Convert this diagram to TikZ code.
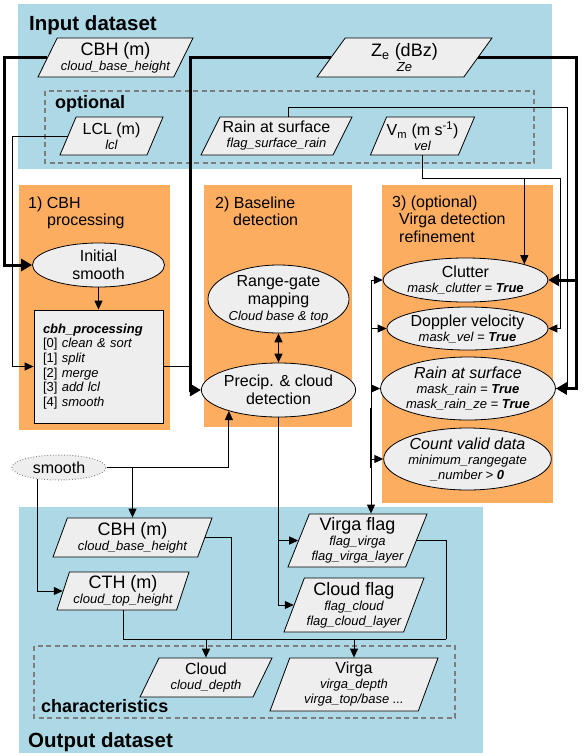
\documentclass[tikz,border=0pt]{standalone}
\usepackage{fontspec}
\setmainfont{Liberation Sans}
\usetikzlibrary{shapes.geometric,arrows.meta}

\definecolor{inblue}{RGB}{173,216,230}
\definecolor{steporange}{RGB}{253,173,96}
\definecolor{boxgray}{RGB}{238,238,238}
\definecolor{dashgray}{RGB}{125,125,125}

\newcommand{\mainsize}{\fontsize{18}{20}\selectfont}
\newcommand{\midsize}{\fontsize{16}{18}\selectfont}

\tikzset{
	io/.style={trapezium, trapezium left angle=#1, trapezium right angle={180-#1},
		trapezium stretches body, draw, line width=0.8pt, fill=boxgray,
		inner sep=0pt, align=center, font=\fontsize{13}{15}\selectfont},
	io/.default=60,
	proc/.style={ellipse, draw, line width=0.8pt, fill=boxgray, inner sep=0pt,
		align=center, font=\fontsize{13}{15}\selectfont},
	bigtitle/.style={anchor=base west, inner sep=0pt, font=\fontsize{20.5}{22}\selectfont\bfseries},
	smalltitle/.style={anchor=base west, inner sep=0pt, font=\fontsize{18}{20}\selectfont\bfseries},
	steptitle/.style={anchor=north west, inner sep=0pt, align=left, font=\fontsize{16}{17.5}\selectfont},
	optbox/.style={draw=dashgray, line width=2pt, dash pattern=on 5pt off 3.5pt},
	thn/.style={line width=1pt, -{Triangle[length=9pt,width=8pt]}},
	thk/.style={line width=3pt, -{Triangle[length=11pt,width=12pt]}},
}

\begin{document}
\begin{tikzpicture}[x=1pt, y=-1pt]
	\useasboundingbox (0,0) rectangle (586,756);

	\fill[inblue] (18,4) rectangle (552,169);
	\fill[inblue] (19,507) rectangle (483,753);
	\fill[steporange] (19,185) rectangle (170,430);
	\fill[steporange] (204,185) rectangle (352,427);
	\fill[steporange] (382,185) rectangle (553,503);
	\draw[optbox] (45,91) rectangle (534,163);
	\draw[optbox] (34,646) rectangle (455,718);

	\node[bigtitle] (intitle) at (29,30) {Input dataset};
	\node[smalltitle] (opttitle) at (55,108) {optional};
	\node[smalltitle] (chartitle) at (41,712.5) {characteristics};
	\node[bigtitle] (outtitle) at (28,747) {Output dataset};
	\node[steptitle] (t1) at (28,196.5) {1) CBH\\\hspace*{19pt}processing};
	\node[steptitle] (t2) at (215,196.5) {2) Baseline\\\hspace*{18pt}detection};
	\node[steptitle] (t3) at (392,195.5) {3) (optional)\\\hspace*{7pt}Virga detection\\\hspace*{7pt}refinement};

	\node[io=58, minimum width=155pt, minimum height=39pt] (cbhin) at (115.5,57.5) {{\mainsize CBH (m)}\\{\itshape cloud\_base\_height}};
	\node[io=45, minimum width=175pt, minimum height=39pt] (zein) at (404.5,57.5) {{\mainsize Z\textsubscript{e} (dBz)}\\{\itshape Ze}};
	\node[io=59, minimum width=103pt, minimum height=38pt] (lclin) at (111.5,136) {{\midsize LCL (m)}\\{\itshape lcl}};
	\node[io=57, minimum width=151pt, minimum height=38pt] (rainin) at (276.5,136) {{\midsize Rain at surface}\\{\itshape flag\_surface\_rain}};
	\node[io=61, minimum width=101pt, minimum height=38pt] (vmin) at (422.5,136) {{\midsize V\textsubscript{m} (m s\textsuperscript{-1})}\\{\itshape vel}};

	\node[proc, minimum width=132pt, minimum height=44pt, font=\midsize] (initsm) at (98.5,265) {Initial\\smooth};
	\node[draw, fill=boxgray, line width=0.8pt, minimum width=129pt, minimum height=113pt, text width=111pt, inner xsep=9pt, align=left, font=\fontsize{13}{14.6}\selectfont] (cbhproc) at (98.5,366.5) {\textbf{\textit{cbh\_processing}}\\{}[0] \textit{clean \& sort}\\{}[1] \textit{split}\\{}[2] \textit{merge}\\{}[3] \textit{add lcl}\\{}[4] \textit{smooth}};

	\node[proc, minimum width=131pt, minimum height=68pt] (range) at (278.5,299) {{\midsize Range-gate}\\[3pt]{\midsize mapping}\\[1pt]{\itshape Cloud base \& top}};
	\node[proc, minimum width=133pt, minimum height=54pt, font=\midsize] (precip) at (278.5,390) {Precip. \& cloud\\detection};

	\node[proc, minimum width=153pt, minimum height=44pt] (clutter) at (465.5,280) {{\midsize Clutter}\\{\itshape mask\_clutter = \textbf{True}}};
	\node[proc, minimum width=155pt, minimum height=43pt] (doppler) at (467.5,328.5) {{\midsize Doppler velocity}\\{\itshape mask\_vel = \textbf{True}}};
	\node[proc, minimum width=156pt, minimum height=63pt] (rainsurf) at (468,388.5) {{\midsize\itshape Rain at surface}\\{\itshape mask\_rain = \textbf{True}}\\{\itshape mask\_rain\_ze = \textbf{True}}};
	\node[proc, minimum width=155pt, minimum height=62pt] (countv) at (467.5,459) {{\midsize\itshape Count valid data}\\{\itshape minimum\_rangegate}\\{\itshape \_number > \textbf{0}}};

	\node[proc, draw=gray, dotted, line width=1pt, minimum width=94pt, minimum height=25pt, font=\midsize] (smooth) at (59,467.5) {smooth};

	\node[io=65, minimum width=159pt, minimum height=39pt] (cbhout) at (132.5,537.5) {{\mainsize CBH (m)}\\{\itshape cloud\_base\_height}};
	\node[io=68, minimum width=132pt, minimum height=38pt] (ctout) at (123,591) {{\mainsize CTH (m)}\\{\itshape cloud\_top\_height}};
	\node[io=65, minimum width=139pt, minimum height=53pt] (virgaflag) at (357.5,540.5) {{\mainsize Virga flag}\\{\itshape flag\_virga}\\{\itshape flag\_virga\_layer}};
	\node[io=66, minimum width=140pt, minimum height=54pt] (cloudflag) at (354,605) {{\mainsize Cloud flag}\\{\itshape flag\_cloud}\\{\itshape flag\_cloud\_layer}};
	\node[io=57, minimum width=132pt, minimum height=39pt] (cloudch) at (206,677.5) {{\midsize Cloud}\\{\itshape cloud\_depth}};
	\node[io=66, minimum width=168pt, minimum height=53pt] (virgach) at (354,684.5) {{\midsize Virga}\\{\itshape virga\_depth}\\{\itshape virga\_top/base ...}};

	\coordinate (xa) at (4,0);
	\coordinate (xb) at (12,0);
	\coordinate (xc) at (190,0);
	\coordinate (xd) at (576,0);
	\coordinate (raincorner) at (567,107);
	\coordinate (velcorner) at (560,178);
	\coordinate (bus) at (371,280);
	\coordinate (cbhcorner) at (231,639);
	\coordinate (outcorner) at (446,639);

	\draw[thk] (cbhin.west) -| (xa |- initsm.west) -- (initsm.west);
	\draw[thk] (zein.west) -| (xc |- precip.west) -- (precip.west);
	\draw[line width=1pt] ([xshift=12pt]rainin.north) |- (raincorner) |- (rainsurf.east);
	\draw[thk] (zein.east) -| (xd |- rainsurf.east) -- (rainsurf.east);
	\draw[thk] (xd |- clutter.east) -- (clutter.east);

	\draw[thn] (lclin.west) -| (xb |- cbhproc.west) -- (cbhproc.west);
	\path[thn] (initsm) edge (cbhproc);
	\draw[line width=1pt] (cbhproc.east) -- (cbhproc.east -| xc);
	\path[line width=1pt, {Triangle[length=9pt,width=8pt]}-{Triangle[length=9pt,width=8pt]}] (range) edge (precip);

	\draw[thn] (vmin.south) |- (velcorner) |- (doppler.east);
	\draw[thn] (vmin.south |- velcorner) -| (clutter.15);

	\draw[thn] (bus) -- (bus |- virgaflag.north);
	\foreach \n in {clutter,doppler,rainsurf,countv}
		\draw[thn] (bus |- \n.west) -- (\n.west);
	\draw[line width=2pt] (bus |- 0,408) -- (bus |- 0,468);

	\draw[thn] (smooth.east) -| (precip.203);
	\draw[thn] (smooth.east -| cbhout.north) -- (cbhout.north);
	\draw[thn] (smooth.208) |- (ctout.west);
	\draw[thn] (precip.south) |- (virgaflag.west);
	\draw[thn] (precip.south) |- (cloudflag.west);

	\draw[line width=1pt] (cbhout.east) -| (cbhcorner);
	\draw[line width=1pt] (ctout.south) |- (outcorner);
	\draw[line width=1pt] (virgaflag.east) -| (outcorner);
	\draw[thn] (cloudch.north |- outcorner) -- (cloudch.north);
	\draw[thn] (virgach.north |- outcorner) -- (virgach.north);
\end{tikzpicture}
\end{document}
